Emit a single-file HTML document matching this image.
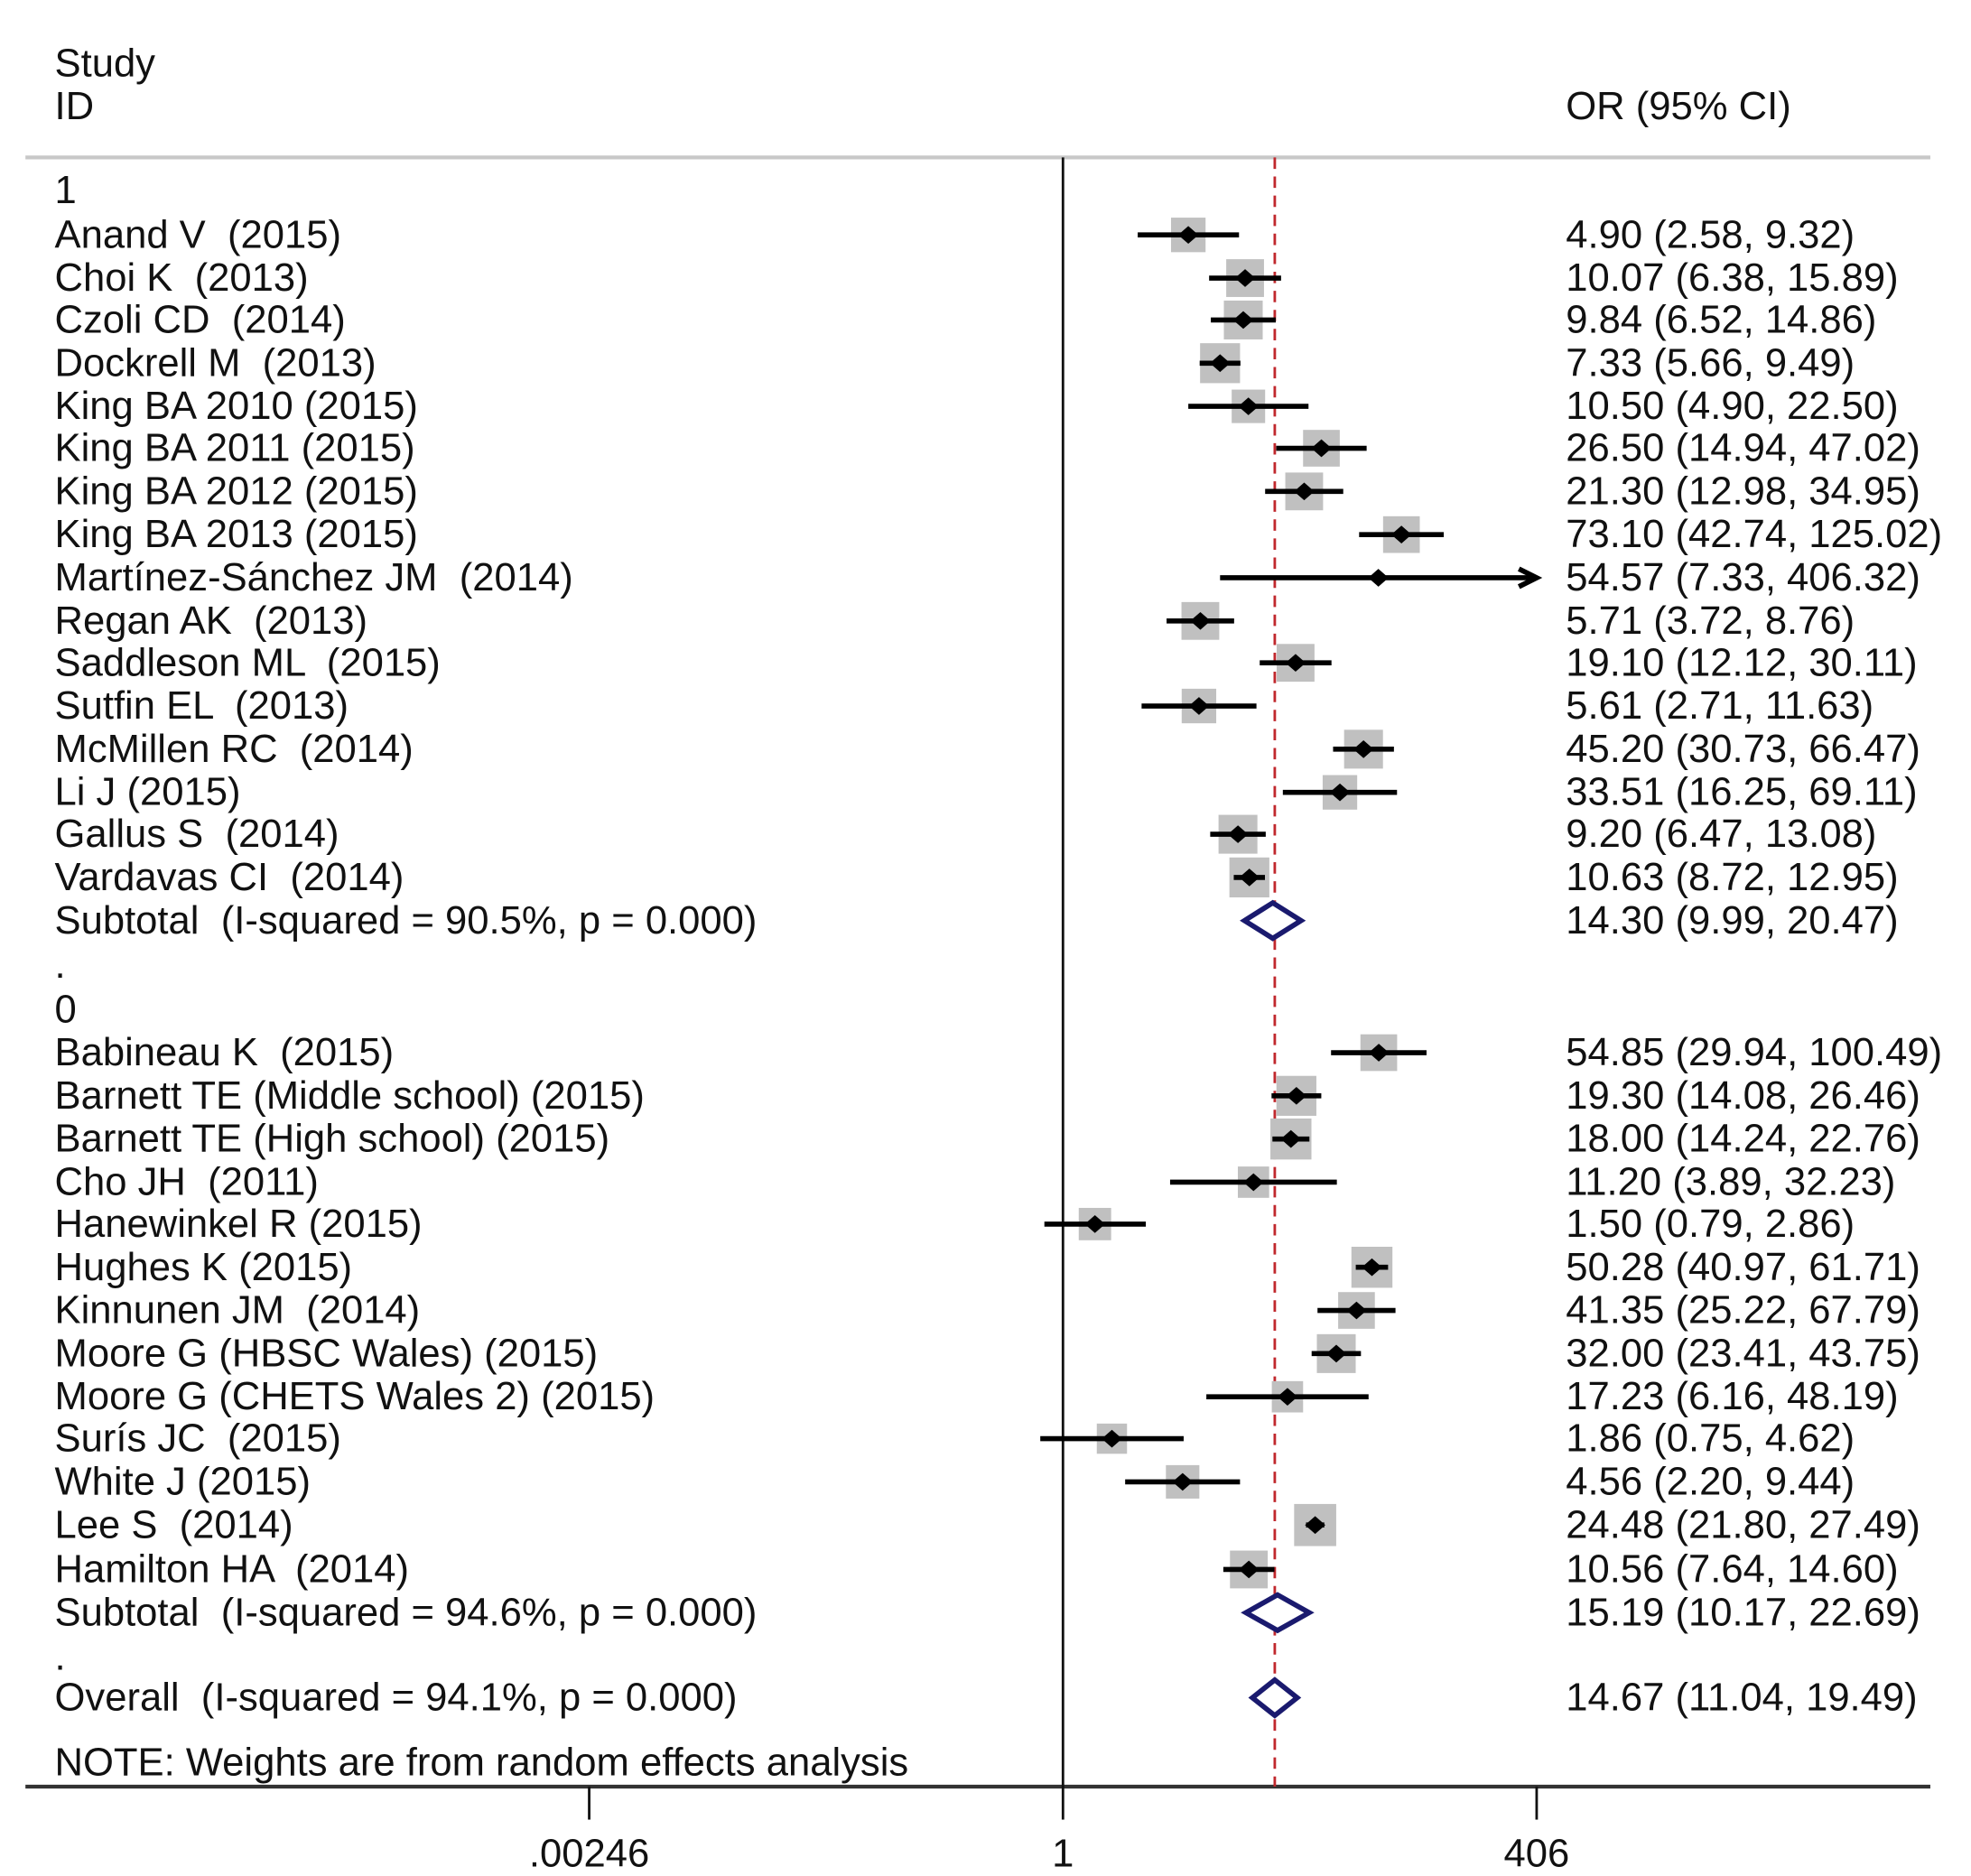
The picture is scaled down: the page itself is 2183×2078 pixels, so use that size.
<!DOCTYPE html>
<html><head><meta charset="utf-8"><style>
html,body{margin:0;padding:0;background:#fff}
svg{display:block}
text{font-family:"Liberation Sans",Arial,sans-serif;font-size:31px;fill:#111;white-space:pre}
</style></head><body>
<svg id="chart" width="2183" height="2078" viewBox="0 0 1552 1477.4" xmlns="http://www.w3.org/2000/svg" xml:space="preserve">
<text x="43" y="60">Study</text>
<text x="43" y="94">ID</text>
<text x="1233" y="94">OR (95% CI)</text>
<line x1="20" y1="124" x2="1520" y2="124" stroke="#c8c8c8" stroke-width="3"/>
<line x1="20" y1="1407" x2="1520" y2="1407" stroke="#333" stroke-width="3"/>
<g id="marks"></g>
</svg>
<script>
const labels = ["1","Anand V  (2015)","Choi K  (2013)","Czoli CD  (2014)","Dockrell M  (2013)","King BA 2010 (2015)","King BA 2011 (2015)","King BA 2012 (2015)","King BA 2013 (2015)","Martínez-Sánchez JM  (2014)","Regan AK  (2013)","Saddleson ML  (2015)","Sutfin EL  (2013)","McMillen RC  (2014)","Li J (2015)","Gallus S  (2014)","Vardavas CI  (2014)","Subtotal  (I-squared = 90.5%, p = 0.000)",".","0","Babineau K  (2015)","Barnett TE (Middle school) (2015)","Barnett TE (High school) (2015)","Cho JH  (2011)","Hanewinkel R (2015)","Hughes K (2015)","Kinnunen JM  (2014)","Moore G (HBSC Wales) (2015)","Moore G (CHETS Wales 2) (2015)","Surís JC  (2015)","White J (2015)","Lee S  (2014)","Hamilton HA  (2014)","Subtotal  (I-squared = 94.6%, p = 0.000)",".","Overall  (I-squared = 94.1%, p = 0.000)"];
const rowType = ["h","s","s","s","s","s","s","s","s","s","s","s","s","s","s","s","s","d","h","h","s","s","s","s","s","s","s","s","s","s","s","s","s","d","h","d"];
const orValues = [null,4.90,10.07,9.84,7.33,10.50,26.50,21.30,73.10,54.57,5.71,19.10,5.61,45.20,33.51,9.20,10.63,14.30,null,null,54.85,19.30,18.00,11.20,1.50,50.28,41.35,32.00,17.23,1.86,4.56,24.48,10.56,15.19,null,14.67];
const lowerCI = [null,2.58,6.38,6.52,5.66,4.90,14.94,12.98,42.74,7.33,3.72,12.12,2.71,30.73,16.25,6.47,8.72,9.99,null,null,29.94,14.08,14.24,3.89,0.79,40.97,25.22,23.41,6.16,0.75,2.20,21.80,7.64,10.17,null,11.04];
const upperCI = [null,9.32,15.89,14.86,9.49,22.50,47.02,34.95,125.02,406.32,8.76,30.11,11.63,66.47,69.11,13.08,12.95,20.47,null,null,100.49,26.46,22.76,32.23,2.86,61.71,67.79,43.75,48.19,4.62,9.44,27.49,14.60,22.69,null,19.49];
const weights = [0,3.2,3.5,3.6,3.7,3.1,3.4,3.5,3.4,0.6,3.5,3.5,3.2,3.6,3.2,3.6,3.7,0,0,0,3.4,3.7,3.8,2.9,3.0,3.8,3.4,3.6,2.9,2.8,3.1,3.9,3.5,0,0,0];
const ciText = ["","4.90 (2.58, 9.32)","10.07 (6.38, 15.89)","9.84 (6.52, 14.86)","7.33 (5.66, 9.49)","10.50 (4.90, 22.50)","26.50 (14.94, 47.02)","21.30 (12.98, 34.95)","73.10 (42.74, 125.02)","54.57 (7.33, 406.32)","5.71 (3.72, 8.76)","19.10 (12.12, 30.11)","5.61 (2.71, 11.63)","45.20 (30.73, 66.47)","33.51 (16.25, 69.11)","9.20 (6.47, 13.08)","10.63 (8.72, 12.95)","14.30 (9.99, 20.47)","","","54.85 (29.94, 100.49)","19.30 (14.08, 26.46)","18.00 (14.24, 22.76)","11.20 (3.89, 32.23)","1.50 (0.79, 2.86)","50.28 (40.97, 61.71)","41.35 (25.22, 67.79)","32.00 (23.41, 43.75)","17.23 (6.16, 48.19)","1.86 (0.75, 4.62)","4.56 (2.20, 9.44)","24.48 (21.80, 27.49)","10.56 (7.64, 14.60)","15.19 (10.17, 22.69)","","14.67 (11.04, 19.49)"];
const tickValues = [0.00246,1,406];
const tickLabels = [".00246","1","406"];
const overallOR = 14.67;

const NS="http://www.w3.org/2000/svg";
const g=document.getElementById('marks');
const X0=837, K=373/Math.log(406), XMAX=1210, XMIN=20;
function xs(v){return X0+K*Math.log(v);}
const rowY=[150,185,219,252,286,320,353,387,421,455,489,522,556,590,624,657,691,725,760,795,829,863,897,931,964,998,1032,1066,1100,1133,1167,1201,1236,1270,1305,1337];
function mk(tag,attrs,parent){const e=document.createElementNS(NS,tag);for(const k in attrs)e.setAttribute(k,attrs[k]);(parent||g).appendChild(e);return e;}
let l=mk('line',{x1:X0,y1:124,x2:X0,y2:1407,stroke:'#111','stroke-width':2});


l=mk('line',{x1:xs(overallOR),y1:124,x2:xs(overallOR),y2:1407,stroke:'#c0282d','stroke-width':2,'stroke-dasharray':'9,6'});


tickValues.forEach((v,i)=>{
  const t=mk('line',{x1:xs(v),y1:1407,x2:xs(v),y2:1433,stroke:'#111','stroke-width':2});
  
  
  const tx=mk('text',{x:xs(v),y:1470,'text-anchor':'middle'});
  tx.textContent=tickLabels[i];
  
  
});
labels.forEach((lab,i)=>{
  const y=rowY[i];
  const t=mk('text',{x:43,y:y+10});
  t.textContent=lab;
  
  
  if(ciText[i]){
    const c=mk('text',{x:1233,y:y+10});
    c.textContent=ciText[i];
    
    
  }
  if(rowType[i]==='s'){
    const sz=weights[i]*8.5;
    const b=mk('rect',{x:xs(orValues[i])-sz/2,y:y-sz/2,width:sz,height:sz,fill:'#c0c0c0'});
    
    
    const lo=Math.max(xs(lowerCI[i]),XMIN), hi=Math.min(xs(upperCI[i]),XMAX);
    const ci=mk('line',{x1:lo,y1:y,x2:hi,y2:y,stroke:'#000','stroke-width':4});
    
    
    if(xs(upperCI[i])>XMAX){
      const a=mk('path',{d:`M${XMAX-14},${y-7} L${XMAX},${y} L${XMAX-14},${y+7}`,fill:'none',stroke:'#000','stroke-width':4});
      
      
    }
    const px=xs(orValues[i]);
    const d=mk('path',{d:`M${px-8},${y} L${px},${y-7} L${px+8},${y} L${px},${y+7}Z`,fill:'#000'});
    
    
  } else if(rowType[i]==='d'){
    const lo=xs(lowerCI[i]), hi=xs(upperCI[i]), px=xs(orValues[i]);
    const d=mk('path',{d:`M${lo},${y} L${px},${y-14} L${hi},${y} L${px},${y+14}Z`,fill:'#fff',stroke:'#1a1a6e','stroke-width':4});
    
    
  }
});
const note=mk('text',{x:43,y:1398});
note.textContent='NOTE: Weights are from random effects analysis';


</script>
</body></html>
